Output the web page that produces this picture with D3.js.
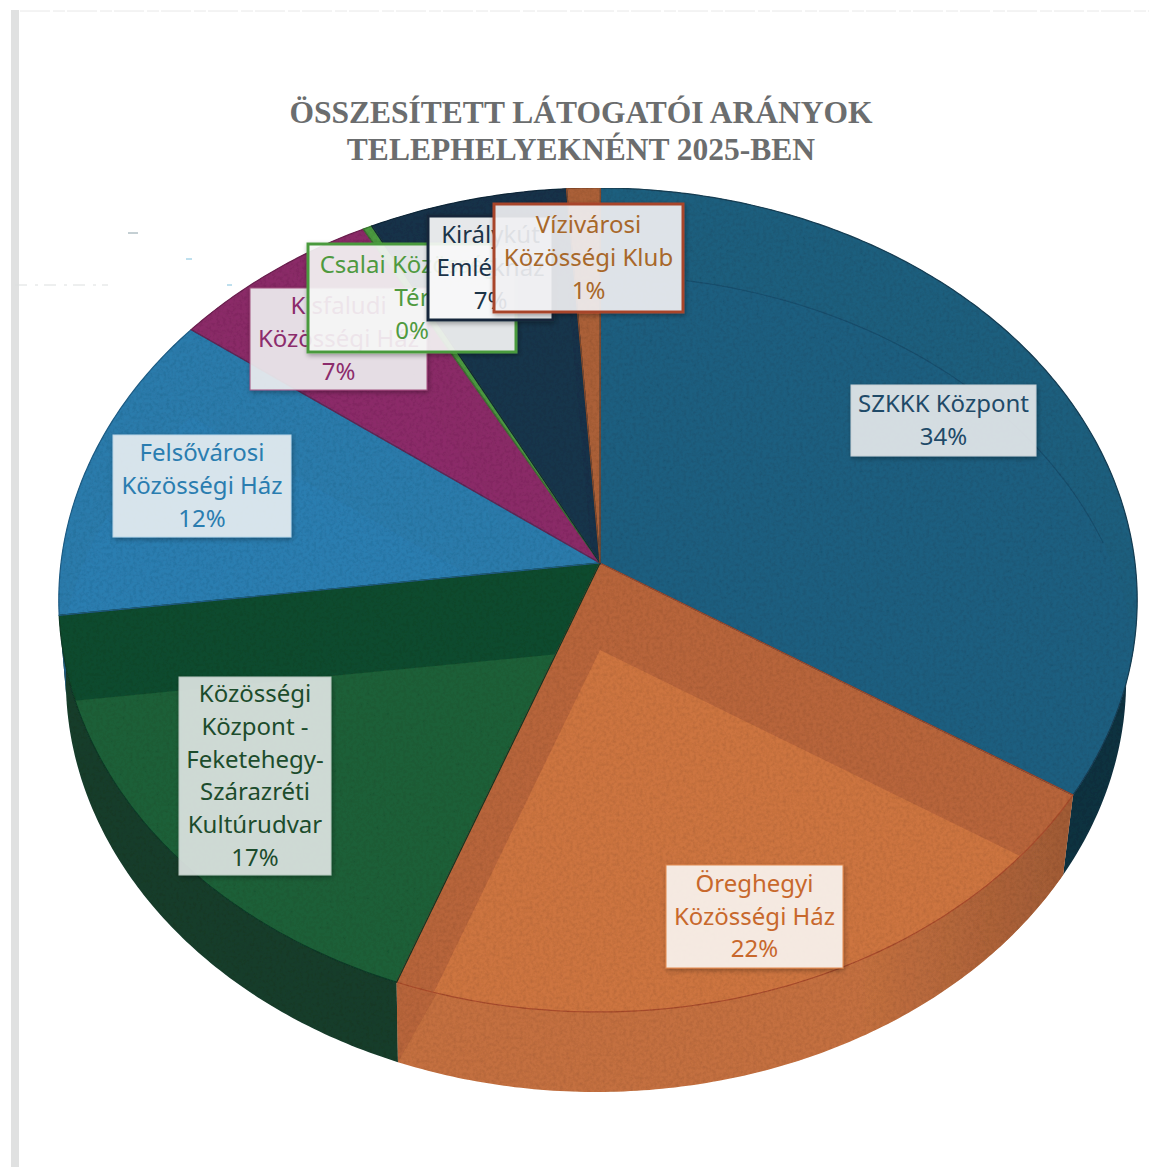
<!DOCTYPE html>
<html lang="hu">
<head>
<meta charset="utf-8">
<script src="https://cdn.jsdelivr.net/npm/d3@7/dist/d3.min.js"></script>
<style>html,body{margin:0;padding:0;background:#fff;overflow:hidden}</style>
</head>
<body>
<div id="chart"></div>
<script>
// ---- data ----
const titleLines = ["ÖSSZESÍTETT LÁTOGATÓI ARÁNYOK", "TELEPHELYEKNÉNT 2025-BEN"];
const categories = [
  ["SZKKK Központ"],
  ["Öreghegyi", "Közösségi Ház"],
  ["Közösségi", "Központ -", "Feketehegy-", "Szárazréti", "Kultúrudvar"],
  ["Felsővárosi", "Közösségi Ház"],
  ["Kisfaludi", "Közösségi Ház"],
  ["Csalai Közösségi", "Tér"],
  ["Királykút", "Emlékház"],
  ["Vízivárosi", "Közösségi Klub"]
];
const shares = [34.0, 21.5, 17.4, 12.3, 6.9, 0.3, 6.5, 1.1];

// ---- styles ----
const topColors  = ["#1d5e7e", "#b8653a", "#114c2d", "#2a7bac", "#8b2a68", "#4b9a40", "#15334a", "#ab6038"];
const litColors  = ["#1d5f80", "#cd7441", "#1b6038", "#2b7eb1", "#8c2b69", "#4b9a40", "#16364c", "#ab6038"];
const wallColors = ["#10303f", "#c4703f", "#143c2b", "#1d5c82", "#6d2050", "#3a7a30", "#10283a", "#8a4c2c"];
const edgeColors = ["#163f55", "#a84b2b", "#0f3a25", "#1f5f88", "#6d2050", "#3a7a30", "#10283a", "#8a4c2c"];
const textColors = ["#1f4a68", "#c8682c", "#1c4c2c", "#2a7db0", "#8c2c6c", "#4f9a3f", "#1b3448", "#a8682a"];
const boxFills   = ["#e6e9eb", "#f9f5f1", "#dfe6e4", "#e8eef2", "#efeef1", "#f6f6f6", "#fafafa", "#f1f1f3"];
const borderColors = ["#c9cfd3", "#e08a50", "#b9c6bf", "#bcd6e6", "#a0507f", "#4a9a3e", "#14283a", "#a8452a"];
const borderWidths = [1, 1, 1, 1, 1, 3, 3, 3];
// label box layout, in pie order: left, top, right, bottom
const boxLayout = [
  [851, 385, 1036, 456], [666, 865, 843, 968], [179, 677, 331, 875], [113, 435, 291, 537],
  [250, 288, 427, 390], [308, 244, 516, 352], [428, 216, 553, 320], [494, 204, 683, 312]
];
const paintOrder = [0, 1, 2, 3, 4, 5, 6, 7];

// ---- geometry: a tilted disc in perspective ----
const W = 1149, H = 1167;
const apexX = 600, apexY = 563;
const persp = -0.0898, vert = 358.1, wallDepth = 80, litShift = 87, turn = 0.005;
const rimTop = { cx: 598, r: 537, dy: 0 }, rimBottom = { cx: 596, r: 528, dy: wallDepth };
const project = (theta, rim) => {
  const u = -Math.cos(theta), w = 1 + persp * u;
  return [rim.cx + rim.r * Math.sin(theta) / w, (vert * u + apexY) / w + rim.dy];
};
const arcPoints = (a0, a1, rim) => {
  const n = Math.max(4, Math.ceil((a1 - a0) * 90));
  return d3.range(n + 1).map(i => project(a0 + (a1 - a0) * i / n, rim));
};

const pieGen = d3.pie().sort(null).value(d => d).startAngle(turn).endAngle(2 * Math.PI + turn)(shares);
const line = d3.line().curve(d3.curveLinear);
const topPath = s => line([[apexX, apexY], ...arcPoints(s.startAngle, s.endAngle, rimTop)]) + "Z";
const wallPath = s => line([...arcPoints(s.startAngle, s.endAngle, rimTop),
                            ...arcPoints(s.startAngle, s.endAngle, rimBottom).reverse()]) + "Z";

const svg = d3.select("#chart").append("svg").attr("width", W).attr("height", H)
  .style("display", "block").style("background", "#fff");
const defs = svg.append("defs");

// print grain
const grain = defs.append("filter").attr("id", "grain").attr("x", 0).attr("y", 0).attr("width", 1).attr("height", 1);
grain.append("feTurbulence").attr("type", "fractalNoise").attr("baseFrequency", 0.3).attr("numOctaves", 3).attr("seed", 4).attr("result", "n");
grain.append("feColorMatrix").attr("in", "n").attr("type", "matrix")
  .attr("values", "0 0 0 0 0  0 0 0 0 0  0 0 0 0 0  1.2 0 0 0 -0.42").attr("result", "a");
grain.append("feComposite").attr("in", "a").attr("in2", "SourceAlpha").attr("operator", "in").attr("result", "c");
grain.append("feComponentTransfer").attr("in", "c").attr("result", "d")
  .append("feFuncA").attr("type", "linear").attr("slope", 0.3);
const gm = grain.append("feMerge");
gm.append("feMergeNode").attr("in", "SourceGraphic");
gm.append("feMergeNode").attr("in", "d");

// box shadow that stays outside the translucent box
const sh = defs.append("filter").attr("id", "boxShadow").attr("x", "-10%").attr("y", "-10%").attr("width", "120%").attr("height", "120%");
sh.append("feGaussianBlur").attr("in", "SourceAlpha").attr("stdDeviation", 2.5).attr("result", "b");
sh.append("feOffset").attr("in", "b").attr("dx", 1).attr("dy", 2).attr("result", "o");
sh.append("feComposite").attr("in", "o").attr("in2", "SourceAlpha").attr("operator", "out").attr("result", "s");
sh.append("feComponentTransfer").attr("in", "s").attr("result", "s2").append("feFuncA").attr("type", "linear").attr("slope", 0.35);
const sm = sh.append("feMerge");
sm.append("feMergeNode").attr("in", "s2");
sm.append("feMergeNode").attr("in", "SourceGraphic");

// the orange side wall darkens toward its right end
const wallShade = defs.append("linearGradient").attr("id", "wallShade")
  .attr("gradientUnits", "userSpaceOnUse").attr("x1", 860).attr("x2", 1060).attr("y1", 0).attr("y2", 0);
wallShade.append("stop").attr("offset", 0).attr("stop-color", "#9c5834").attr("stop-opacity", 0);
wallShade.append("stop").attr("offset", 1).attr("stop-color", "#9c5834").attr("stop-opacity", 0.85);

pieGen.forEach((s, i) => {
  defs.append("clipPath").attr("id", "clip" + i).append("path").attr("d", topPath(s));
});

// scan residue
svg.append("rect").attr("x", 11).attr("y", 10).attr("width", 8).attr("height", H - 10).attr("fill", "#e0e1e1");
svg.append("line").attr("x1", 20).attr("x2", W).attr("y1", 11).attr("y2", 11)
  .attr("stroke", "#e8e8e8").attr("stroke-width", 1).attr("stroke-dasharray", "30 3 12 2");
svg.append("line").attr("x1", 15).attr("x2", 108).attr("y1", 285).attr("y2", 285)
  .attr("stroke", "#dcdfdf").attr("stroke-width", 1).attr("stroke-dasharray", "12 8 3 6");
svg.append("line").attr("x1", 128).attr("x2", 138).attr("y1", 233).attr("y2", 233).attr("stroke", "#8aa0a8");
svg.append("line").attr("x1", 186).attr("x2", 192).attr("y1", 259).attr("y2", 259).attr("stroke", "#7fc0dd");
svg.append("line").attr("x1", 227).attr("x2", 232).attr("y1", 285).attr("y2", 285).attr("stroke", "#7fc0dd");

// title
svg.append("g").selectAll("text").data(titleLines).join("text")
  .attr("x", 581).attr("y", (d, i) => 123 + i * 37)
  .attr("text-anchor", "middle")
  .attr("font-family", "'Liberation Serif', serif").attr("font-weight", 700)
  .attr("font-size", 31.5).attr("fill", "#6b6d6e")
  .text(d => d);

// pie
const pie = svg.append("g").attr("filter", "url(#grain)");
pie.append("g").selectAll("path").data(pieGen).join("path")
  .attr("d", wallPath).attr("fill", (d, i) => wallColors[i]);
pie.append("path").attr("d", wallPath(pieGen[1])).attr("fill", "url(#wallShade)");
// the dark strip at the left end of the orange wall
pie.append("path")
  .attr("d", line([project(pieGen[1].endAngle, rimTop), project(pieGen[1].endAngle, rimBottom),
                   [project(pieGen[1].endAngle, rimTop)[0] + 42, project(pieGen[1].endAngle, rimTop)[1] + 8]]) + "Z")
  .attr("fill", "#b8653a");
pie.append("g").selectAll("path").data(pieGen).join("path")
  .attr("d", topPath).attr("fill", (d, i) => topColors[i]);
pie.append("g").selectAll("g").data(pieGen).join("g")
  .attr("clip-path", (d, i) => `url(#clip${i})`)
  .append("path").attr("d", topPath)
  .attr("transform", `translate(0,${litShift})`)
  .attr("fill", (d, i) => litColors[i]);
pie.append("g").selectAll("path").data(pieGen).join("path")
  .attr("d", topPath).attr("fill", "none")
  .attr("stroke", (d, i) => edgeColors[i]).attr("stroke-width", 1.2);
// faint inner rim on the first slice
pie.append("path")
  .attr("d", line(arcPoints(0.18, 1.3, { cx: rimTop.cx, r: rimTop.r, dy: litShift })))
  .attr("fill", "none").attr("stroke", "#174a66").attr("stroke-width", 1.2).attr("opacity", 0.7);

// labels
const labels = svg.append("g").selectAll("g").data(paintOrder).join("g");
labels.append("rect")
  .attr("x", i => boxLayout[i][0]).attr("y", i => boxLayout[i][1])
  .attr("width", i => boxLayout[i][2] - boxLayout[i][0])
  .attr("height", i => boxLayout[i][3] - boxLayout[i][1])
  .attr("fill", i => boxFills[i]).attr("fill-opacity", 0.91)
  .attr("stroke", i => borderColors[i]).attr("stroke-width", i => borderWidths[i])
  .attr("filter", "url(#boxShadow)");
labels.each(function (i) {
  const rows = [...categories[i], d3.format(".0f")(Math.round(shares[i])) + "%"];
  const cx = (boxLayout[i][0] + boxLayout[i][2]) / 2;
  const cy = (boxLayout[i][1] + boxLayout[i][3]) / 2;
  const step = 32.8;
  d3.select(this).selectAll("text").data(rows).join("text")
    .attr("x", cx)
    .attr("y", (d, k) => cy + (k - (rows.length - 1) / 2) * step + 8)
    .attr("text-anchor", "middle")
    .attr("font-family", "'Noto Sans', sans-serif").attr("font-size", 24)
    .attr("fill", textColors[i])
    .text(d => d);
});
</script>
</body>
</html>
